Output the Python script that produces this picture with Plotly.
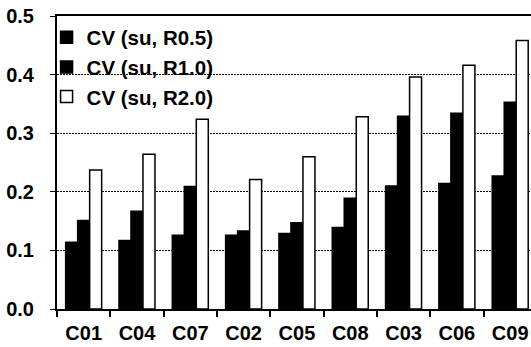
import plotly.graph_objects as go

categories = ["C01", "C04", "C07", "C02", "C05", "C08", "C03", "C06", "C09"]
cv_r05 = [0.114, 0.117, 0.126, 0.126, 0.129, 0.139, 0.210, 0.214, 0.227]
cv_r10 = [0.151, 0.167, 0.209, 0.133, 0.147, 0.189, 0.329, 0.334, 0.353]
cv_r20 = [0.237, 0.264, 0.324, 0.221, 0.260, 0.328, 0.396, 0.416, 0.458]
series_names = ["CV (su, R0.5)", "CV (su, R1.0)", "CV (su, R2.0)"]
y_ticks = [0.0, 0.1, 0.2, 0.3, 0.4, 0.5]

FONT = "Liberation Sans, Arial, sans-serif"

fig = go.Figure()
fills = ["black", "black", "white"]
for i, (name, vals) in enumerate(zip(series_names, [cv_r05, cv_r10, cv_r20])):
    fig.add_trace(go.Bar(
        x=categories, y=vals, name=name, legendgroup=f"g{i}",
        marker=dict(color=fills[i], line=dict(color="black", width=1.5)),
    ))

fig.update_layout(
    width=531, height=347,
    margin=dict(l=57, r=0, t=16, b=38),
    paper_bgcolor="white", plot_bgcolor="white",
    barmode="group", bargap=0.325, bargroupgap=0,
    font=dict(family=FONT, size=20, color="black", weight="bold"),
    showlegend=True,
    legend=dict(
        x=-0.022, y=0.995, xanchor="left", yanchor="top",
        bgcolor="rgba(0,0,0,0)", borderwidth=0,
        font=dict(family=FONT, size=20.5, color="black", weight="bold"),
        tracegroupgap=6, traceorder="normal",
    ),
    xaxis=dict(
        type="category", range=[-0.5, 8.39],
        showline=True, linecolor="black", linewidth=2, mirror=True,
        ticks="outside", ticklen=6, tickwidth=1.5, tickcolor="black",
        tickson="boundaries", showgrid=False, ticklabelstandoff=5,
        tickfont=dict(family=FONT, size=20, color="black", weight="bold"),
    ),
    yaxis=dict(
        range=[0, 0.5], tickvals=y_ticks, tickformat=".1f",
        showline=True, linecolor="black", linewidth=2,
        ticks="outside", ticklen=5, tickwidth=1, tickcolor="black",
        showgrid=True, gridcolor="black", gridwidth=1, griddash="1.5px,1.5px",
        zeroline=False, ticklabelstandoff=12,
        tickfont=dict(family=FONT, size=20, color="black", weight="bold"),
    ),
)

fig.write_html("out.html")
